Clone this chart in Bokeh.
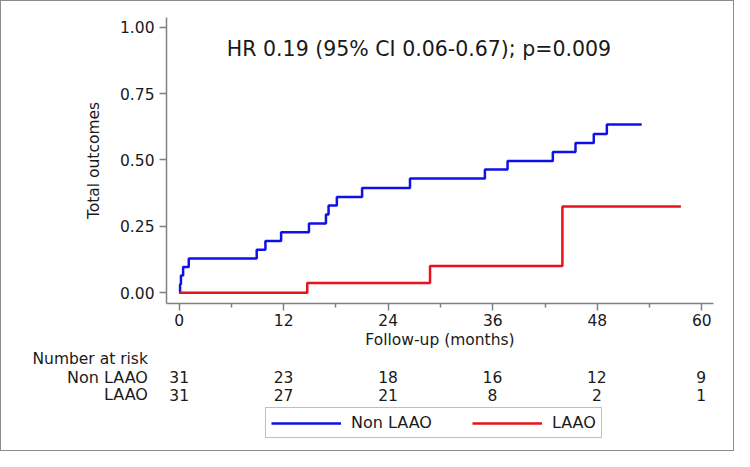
from bokeh.plotting import figure
from bokeh.layouts import column
from bokeh.core.properties import value
from bokeh.models import (Range1d, FixedTicker, NumeralTickFormatter, Label, LabelSet,
                          ColumnDataSource, Legend, LegendItem)
from bokeh.embed import file_html
from bokeh.resources import INLINE

# ---- data ----
non_laao_t = [0.0, 0.1, 0.2, 0.45, 1.1, 8.9, 9.9, 11.7, 14.9, 16.85, 17.15, 18.1, 21.0,
              26.5, 35.1, 37.7, 42.9, 45.5, 47.6, 49.1, 53.1]
non_laao_y = [0.0, 0.032, 0.065, 0.097, 0.129, 0.162, 0.195, 0.228, 0.261, 0.295, 0.329,
              0.361, 0.395, 0.430, 0.464, 0.496, 0.530, 0.564, 0.598, 0.633, 0.633]
laao_t = [0.0, 14.7, 28.8, 44.0, 57.6]
laao_y = [0.0, 0.037, 0.101, 0.325, 0.325]

x_ticks = [0, 12, 24, 36, 48, 60]
x_minor = [6, 18, 30, 42, 54]
y_ticks = [0.0, 0.25, 0.5, 0.75, 1.0]
risk_non_laao = ["31", "23", "18", "16", "12", "9"]
risk_laao = ["31", "27", "21", "8", "2", "1"]
group_names = ["Non LAAO", "LAAO"]
title_text = "HR 0.19 (95% CI 0.06-0.67); p=0.009"
x_label = "Follow-up (months)"
y_label = "Total outcomes"
risk_title = "Number at risk"

# ---- layout (reference image is 750x467) ----
W, H = 732, 449
SX, SY = W / 750.0, H / 467.0
PX_PER_MONTH = 535.0 / 60.0     # reference pixels per month
X0 = 182.0                      # reference pixel of month 0


def month(xref):
    return (xref - X0) / PX_PER_MONTH


SPLIT = 364.0                   # reference y where the risk table starts
MH = round(SPLIT * SY)
TH = H - MH
f_left, f_right = round(169 * SX), round(729 * SX)
f_top, f_bot = round(17 * SY), round(314 * SY)

FONT = "DejaVu Sans"
TXT = "#1a1a1a"
AX = "#808080"
BLUE = "#1010e8"
RED = "#e8121a"
FS = "15.5px"

p = figure(width=W, height=MH, output_backend="svg", toolbar_location=None,
           x_range=Range1d(month(169), month(729)), y_range=Range1d(-0.040, 1.036),
           min_border_left=f_left, min_border_right=W - f_right,
           min_border_top=f_top, min_border_bottom=MH - f_bot)
p.frame_align = False
p.outline_line_color = None
p.grid.visible = False

r_blue = p.step(non_laao_t, non_laao_y, mode="after", line_color=BLUE, line_width=2.5)
r_red = p.step(laao_t, laao_y, mode="after", line_color=RED, line_width=2.5)

for ax in (p.xaxis[0], p.yaxis[0]):
    ax.axis_line_color = AX
    ax.axis_line_width = 1.5
    ax.major_tick_line_color = AX
    ax.major_tick_line_width = 1.5
    ax.minor_tick_line_color = AX
    ax.minor_tick_line_width = 1.5
    ax.major_tick_in = 0
    ax.major_tick_out = 7
    ax.minor_tick_in = 0
    ax.minor_tick_out = 4
    ax.major_label_text_font = FONT
    ax.major_label_text_font_size = FS
    ax.major_label_text_color = TXT
    ax.axis_label_text_font = FONT
    ax.axis_label_text_font_size = FS
    ax.axis_label_text_font_style = "normal"
    ax.axis_label_text_color = TXT

p.xaxis.ticker = FixedTicker(ticks=x_ticks, minor_ticks=x_minor)
p.yaxis.ticker = FixedTicker(ticks=y_ticks, minor_ticks=[])
p.yaxis.formatter = NumeralTickFormatter(format="0.00")
p.xaxis.axis_label = x_label
p.yaxis.axis_label = y_label
p.xaxis.major_label_standoff = 3
p.yaxis.major_label_standoff = 5
p.xaxis.axis_label_standoff = 2
p.yaxis.axis_label_standoff = 14

p.add_layout(Label(x=month(427.5), y=0.917, text=title_text, text_align="center",
                   text_baseline="middle", text_font=FONT, text_font_size="20.5px",
                   text_color=TXT))

# ---- risk table + legend figure ----
t = figure(width=W, height=TH, output_backend="svg", toolbar_location=None,
           x_range=Range1d(month(0), month(750)), y_range=Range1d(467, SPLIT),
           x_axis_type=None, y_axis_type=None,
           min_border_left=0, min_border_right=0, min_border_top=0, min_border_bottom=0)
t.frame_align = False
t.outline_line_color = None
t.grid.visible = False

row_x = month(150)
t.add_layout(Label(x=row_x, y=372, text=risk_title, text_align="right", text_baseline="middle",
                   text_font=FONT, text_font_size=FS, text_color=TXT))
for name, yy in zip(group_names, [390.7, 409]):
    t.add_layout(Label(x=row_x, y=yy, text=name, text_align="right", text_baseline="middle",
                       text_font=FONT, text_font_size="16px", text_color=TXT))

src = ColumnDataSource(dict(x=x_ticks + x_ticks,
                            y=[390.7] * len(x_ticks) + [409] * len(x_ticks),
                            t=risk_non_laao + risk_laao))
t.add_layout(LabelSet(x="x", y="y", text="t", source=src, text_align="center",
                      text_baseline="middle", text_font=value(FONT), text_font_size=value(FS),
                      text_color=TXT))

nan = float("nan")
lb = t.line([nan], [nan], line_color=BLUE, line_width=2.5)
lr = t.line([nan], [nan], line_color=RED, line_width=2.5)
legend = Legend(items=[LegendItem(label=group_names[0], renderers=[lb]),
                       LegendItem(label=group_names[1], renderers=[lr])],
                orientation="horizontal",
                location=(round(270 * SX), round((467 - 455) * SY)),
                glyph_width=70, glyph_height=16, label_height=16, label_standoff=10,
                spacing=40, padding=5, margin=0,
                border_line_color=AX, border_line_width=1.5,
                label_text_font=FONT, label_text_font_size="16px", label_text_color=TXT,
                background_fill_color="white", background_fill_alpha=1.0)
t.add_layout(legend, "center")

layout = column(p, t, spacing=0, styles={"border": "1px solid #8c8c8c"})
open("out.html", "w").write(file_html(layout, INLINE))
